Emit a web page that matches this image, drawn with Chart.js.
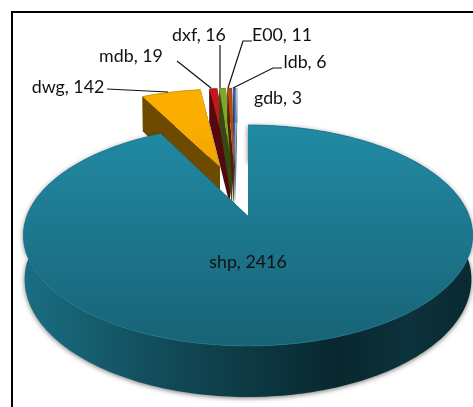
<!DOCTYPE html>
<html>
<head>
<meta charset="utf-8">
<style>
html, body { margin: 0; padding: 0; background: #fff; overflow: hidden; }
canvas { display: block; }
</style>
<script src="https://cdn.jsdelivr.net/npm/chart.js@4"></script>
</head>
<body>
<canvas id="chart" width="473" height="407"></canvas>
<script>
const categories = ["shp", "dwg", "mdb", "dxf", "E00", "ldb", "gdb"];
const fileCounts = [2416, 142, 19, 16, 11, 6, 3];
const sliceColors = ["#218aa4", "#fbad00", "#c4161c", "#7fa82a", "#b9480f", "#3560a8", "#a8c8e8"];

// where each label sits, and the elbow of its leader line
const labelSpots = [
    { x: 248, y: 262 },
    { x: 68, y: 87, elbow: [107, 89], tip: [168, 92] },
    { x: 131, y: 56, elbow: [177, 61], tip: [211, 88] },
    { x: 199, y: 35, elbow: [220, 45], tip: [220, 88] },
    { x: 282, y: 35, elbow: [243, 41], start: [252, 41], tip: [228, 88] },
    { x: 305, y: 62, elbow: [273, 68], start: [282, 68], tip: [233, 88] },
    { x: 278, y: 98 }
];

const explodePercent = 26;
const tilt = 0.484;
const perspective = 0.1765;
const depth = 43;
const bottomShrink = 0.005;

function shade(hex, f) {
    let r = parseInt(hex.substr(1, 2), 16) * f;
    let g = parseInt(hex.substr(3, 2), 16) * f;
    let b = parseInt(hex.substr(5, 2), 16) * f;
    return `rgb(${Math.round(r)},${Math.round(g)},${Math.round(b)})`;
}

function midAngle(arc) {
    return (arc.startAngle + arc.endAngle) / 2;
}

function sliceShift(arc) {
    let e = arc.options.offset / 100;
    return { u: Math.cos(midAngle(arc)) * e, v: Math.sin(midAngle(arc)) * e };
}

// u, v in pie radii (v towards the viewer), lower = 1 for the bottom plane
function project(arc, origin, u, v, lower) {
    let x = u - origin.u;
    let y = v - origin.v;
    let s = 1 / (1 - perspective * y + bottomShrink * lower);
    return {
        x: arc.x + arc.outerRadius * x * s,
        y: arc.y + (arc.outerRadius * tilt * y + depth * lower) * s
    };
}

function tracePath(ctx, points) {
    ctx.beginPath();
    points.forEach((p, i) => i === 0 ? ctx.moveTo(p.x, p.y) : ctx.lineTo(p.x, p.y));
    ctx.closePath();
}

function rimPoints(arc, origin, lower) {
    let shift = sliceShift(arc);
    let steps = Math.max(2, Math.ceil((arc.endAngle - arc.startAngle) / 0.02));
    let points = [];
    for (let i = 0; i <= steps; i++) {
        let a = arc.startAngle + (arc.endAngle - arc.startAngle) * i / steps;
        points.push(project(arc, origin, shift.u + Math.cos(a), shift.v + Math.sin(a), lower));
    }
    return points;
}

function drawSlice(ctx, arc, origin, index) {
    let base = arc.options.backgroundColor;
    let shift = sliceShift(arc);
    let apexTop = project(arc, origin, shift.u, shift.v, 0);
    let apexLow = project(arc, origin, shift.u, shift.v, 1);
    let rimTop = rimPoints(arc, origin, 0);
    let rimLow = rimPoints(arc, origin, 1);

    // outer wall
    let wall = ctx.createLinearGradient(24, 0, 473, 0);
    wall.addColorStop(0, shade(base, 0.8));
    wall.addColorStop(0.3, shade(base, 0.55));
    wall.addColorStop(0.7, shade(base, 0.28));
    wall.addColorStop(0.85, shade(base, 0.36));
    wall.addColorStop(1, shade(base, 0.3));
    ctx.save();
    if (index === 0) {
        ctx.shadowColor = "rgba(0,0,0,0.55)";
        ctx.shadowBlur = 5;
        ctx.shadowOffsetY = 1;
    }
    tracePath(ctx, rimTop.concat(rimLow.slice().reverse()));
    ctx.fillStyle = wall;
    ctx.fill();
    ctx.restore();

    // cut walls
    ctx.fillStyle = shade(base, 0.43);
    tracePath(ctx, [apexTop, rimTop[rimTop.length - 1], rimLow[rimLow.length - 1], apexLow]);
    ctx.fill();
    tracePath(ctx, [apexTop, rimTop[0], rimLow[0], apexLow]);
    ctx.fill();

    // top face
    let top = ctx.createLinearGradient(0, 88, 0, 346);
    top.addColorStop(0, shade(base, 1));
    top.addColorStop(0.15, shade(base, 1));
    top.addColorStop(1, shade(base, 0.72));
    tracePath(ctx, [apexTop].concat(rimTop));
    ctx.fillStyle = top;
    ctx.fill();

    // soft light along the rim
    ctx.beginPath();
    rimTop.forEach((p, i) => i === 0 ? ctx.moveTo(p.x, p.y) : ctx.lineTo(p.x, p.y));
    ctx.strokeStyle = shade(base, 0.85);
    ctx.lineWidth = 0.8;
    ctx.stroke();
}

const pie3d = {
    id: "pie3d",
    beforeDatasetDraw(chart) {
        let ctx = chart.ctx;
        let arcs = chart.getDatasetMeta(0).data;
        let origin = sliceShift(arcs[0]);
        // small slices first, the big one goes on top of them
        for (let i = 1; i < arcs.length; i++) {
            drawSlice(ctx, arcs[i], origin, i);
        }
        drawSlice(ctx, arcs[0], origin, 0);
        return false;
    },
    afterDraw(chart) {
        let ctx = chart.ctx;
        ctx.save();
        ctx.strokeStyle = "#000";
        ctx.lineWidth = 2;
        ctx.strokeRect(12, 12, 480, 420);

        ctx.strokeStyle = "#111";
        ctx.lineWidth = 1.2;
        labelSpots.forEach(spot => {
            if (!spot.tip) return;
            ctx.beginPath();
            if (spot.start) ctx.moveTo(spot.start[0], spot.start[1]);
            else ctx.moveTo(spot.elbow[0], spot.elbow[1]);
            ctx.lineTo(spot.elbow[0], spot.elbow[1]);
            ctx.lineTo(spot.tip[0], spot.tip[1]);
            ctx.stroke();
        });

        ctx.font = "17.8px Lato";
        ctx.fillStyle = "#111";
        ctx.textAlign = "center";
        ctx.textBaseline = "middle";
        categories.forEach((name, i) => {
            ctx.fillText(name + ", " + fileCounts[i], labelSpots[i].x, labelSpots[i].y);
        });
        ctx.restore();
    }
};

new Chart(document.getElementById("chart"), {
    type: "pie",
    data: {
        labels: categories,
        datasets: [{
            data: fileCounts,
            backgroundColor: sliceColors,
            offset: explodePercent,
            borderWidth: 0
        }]
    },
    options: {
        responsive: false,
        animation: false,
        radius: 221,
        layout: { padding: { left: 23, top: 25 } },
        plugins: {
            legend: { display: false },
            tooltip: { enabled: false }
        }
    },
    plugins: [pie3d]
});
</script>
</body>
</html>
